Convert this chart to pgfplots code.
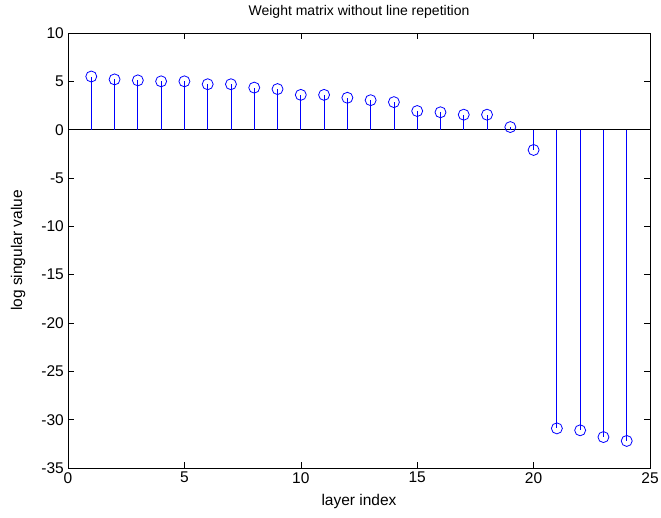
\documentclass[border=0pt]{standalone}
\usepackage{pgfplots}
\pgfplotsset{compat=1.18}
\usepackage{fontspec}
\setmainfont{Liberation Sans}
\definecolor{mblue}{rgb}{0,0,1}

\begin{document}
\begin{tikzpicture}
\path[use as bounding box] (-68pt,-49pt) rectangle (593pt,468pt);
\begin{axis}[
  at={(0,0)}, anchor=south west,
  scale only axis, width=582pt, height=435pt,
  xmin=0, xmax=25, ymin=-35, ymax=10,
  xtick={0,5,...,25}, ytick={-35,-30,...,10},
  tick align=inside, major tick length=6pt,
  tick style={black, line width=0.6pt},
  axis line style={black, line width=0.6pt},
  font=\fontsize{15.5}{18}\selectfont,
  /pgf/number format/assume math mode=true,
  xticklabel style={inner sep=1pt, yshift=-3pt},
  yticklabel style={inner sep=1pt, xshift=-3pt},
  title={Weight matrix without line repetition},
  title style={font=\fontsize{14}{16}\selectfont, at={(axis description cs:0.5,1)}, anchor=base, yshift=11pt},
  xlabel={layer index}, ylabel={log singular value},
  xlabel style={at={(axis description cs:0.5,0)}, anchor=base, yshift=-37pt},
  ylabel style={at={(axis description cs:0,0.5)}, anchor=center, yshift=50pt},
  clip=false,
]
  \addplot[black, line width=0.6pt] coordinates {(0,0)(25,0)};
  \addplot[mblue, ycomb, line width=0.8pt, mark=o, mark size=5.5pt,
           mark options={line width=0.8pt}] coordinates {
    (1,5.5)(2,5.2)(3,5.1)(4,5.0)(5,5.0)(6,4.7)(7,4.7)(8,4.35)
    (9,4.2)(10,3.6)(11,3.6)(12,3.3)(13,3.05)(14,2.85)(15,1.93)
    (16,1.8)(17,1.55)(18,1.55)(19,0.27)(20,-2.1)
    (21,-30.9)(22,-31.1)(23,-31.8)(24,-32.2)
  };
\end{axis}
\end{tikzpicture}
\end{document}
